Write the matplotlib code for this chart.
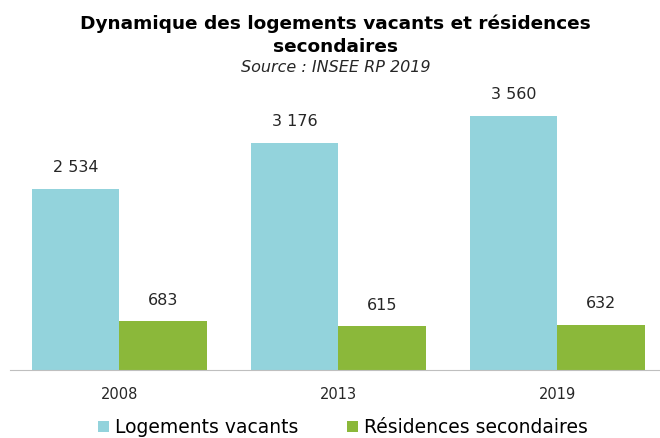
import numpy as np
import matplotlib.pyplot as plt

years = ['2008', '2013', '2019']
vacants = [2534, 3176, 3560]
secondaires = [683, 615, 632]
labels_vac = ['2 534', '3 176', '3 560']
labels_sec = ['683', '615', '632']

plt.rcParams['font.family'] = ['DejaVu Sans']

fig = plt.figure(figsize=(6.6, 4.38), dpi=100)
ax = fig.add_axes([0.015, 0.155, 0.985, 0.653])

x = np.arange(len(years))
w = 0.4
b1 = ax.bar(x - w/2, vacants, w, color='#93D3DC', label='Logements vacants')
b2 = ax.bar(x + w/2, secondaires, w, color='#8BB83A',
            label='Résidences secondaires')

for bars, labs in ((b1, labels_vac), (b2, labels_sec)):
    for r, t in zip(bars, labs):
        ax.text(r.get_x() + r.get_width()/2, r.get_height() + 190, t,
                ha='center', va='bottom', fontsize=11.5, color='#262626')

ax.set_xlim(-0.5, 2.47)
ax.set_ylim(0, 4000)
ax.set_xticks(x)
ax.set_xticklabels(years, fontsize=10.5, color='#262626')
ax.tick_params(axis='x', length=0, pad=12)
ax.set_yticks([])
for s in ('top', 'right', 'left'):
    ax.spines[s].set_visible(False)
ax.spines['bottom'].set_color('#BFBFBF')

fig.text(0.508, 0.946, 'Dynamique des logements vacants et résidences',
         ha='center', va='center', fontsize=13.3, fontweight='bold')
fig.text(0.508, 0.893, 'secondaires', ha='center', va='center',
         fontsize=13.3, fontweight='bold')
fig.text(0.508, 0.845, 'Source : INSEE RP 2019', ha='center', va='center',
         fontsize=11.5, style='italic', color='#262626')

fig.legend(loc='center', bbox_to_anchor=(0.52, 0.023), ncol=2,
           frameon=False, fontsize=13.5, handlelength=0.55, handleheight=0.55,
           handletextpad=0.35, columnspacing=2.6)

fig.savefig('out.png', dpi=100)
